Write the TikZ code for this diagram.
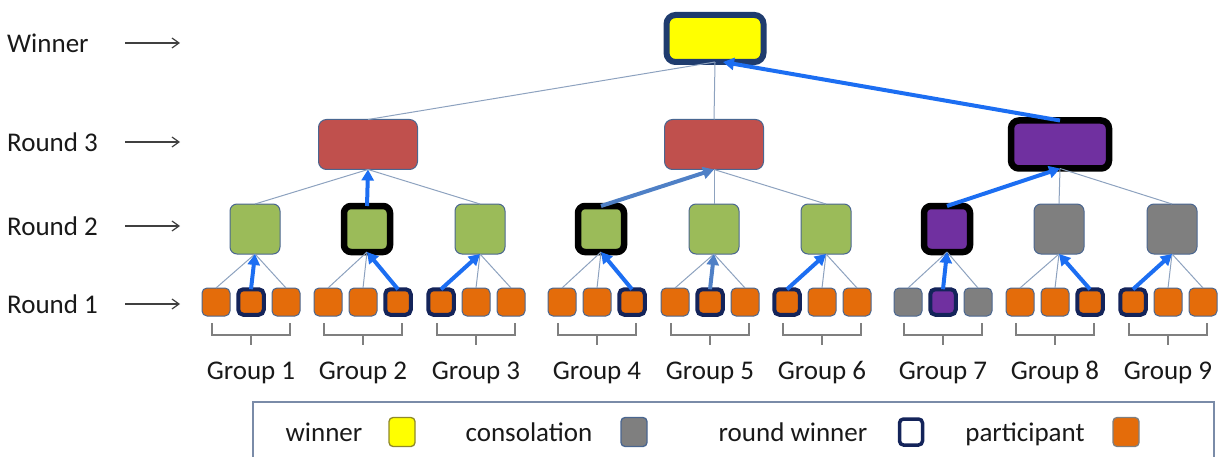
\documentclass[tikz,border=0pt]{standalone}
\usepackage{fontspec}
\setmainfont{Carlito}
\usetikzlibrary{arrows.meta}
\definecolor{orng}{HTML}{E46C0A}
\definecolor{grn}{HTML}{9BBB59}
\definecolor{redb}{HTML}{C0504D}
\definecolor{purp}{HTML}{7030A0}
\definecolor{gry}{HTML}{7F7F7F}
\definecolor{edgec}{HTML}{4A6690}
\definecolor{navy}{HTML}{14245A}
\definecolor{wnavy}{HTML}{1F3C6E}
\definecolor{lnkc}{HTML}{8DA2BF}
\definecolor{bblue}{HTML}{1C6EF2}
\definecolor{sblue}{HTML}{4F80C6}
\definecolor{ylw}{HTML}{FFFF00}
\definecolor{legc}{HTML}{7A8BA8}
\begin{document}
\begin{tikzpicture}[x=1pt,y=-1pt,
  base/.style={inner sep=0pt, outer sep=0pt},
  r1p/.style={base, rounded corners=5pt, draw=edgec, line width=1pt, fill=orng, minimum size=28pt},
  r1pw/.style={base, rounded corners=5pt, draw=navy, line width=4pt, fill=orng, minimum size=25.5pt},
  r1c/.style={r1p, fill=gry},
  r1uw/.style={r1pw, fill=purp},
  r2g/.style={base, rounded corners=7pt, draw=edgec, line width=1pt, fill=grn, minimum size=50pt},
  r2gw/.style={base, rounded corners=7pt, draw=black, line width=6.5pt, fill=grn, minimum size=46pt},
  r2uw/.style={r2gw, fill=purp},
  r2c/.style={r2g, fill=gry},
  r3/.style={base, rounded corners=8pt, draw=edgec, line width=1pt, fill=redb, minimum width=99pt, minimum height=50pt},
  r3w/.style={base, rounded corners=8pt, draw=black, line width=6.5pt, fill=purp, minimum width=98pt, minimum height=48pt},
  winbox/.style={base, rounded corners=9pt, draw=wnavy, line width=6pt, fill=ylw, minimum width=97pt, minimum height=47pt},
  txt/.style={inner sep=0pt, font=\fontsize{27}{32}\selectfont, text=black!90, text height=19pt, text depth=6pt},
  lnk/.style={draw=lnkc, line width=1pt},
  warr/.style={line width=4pt, -{Triangle[length=11pt,width=12pt]}},
  rowarr/.style={draw=black!75, line width=1.2pt, -{Straight Barb[length=7pt,width=10pt]}},
  brk/.style={draw=gry, line width=1.3pt},
  lgsq/.style={base, rounded corners=4pt, minimum width=26pt, minimum height=29pt, line width=1.3pt}
]
\useasboundingbox (0,0) rectangle (1225,457);
\clip (0,0) rectangle (1225,457);

% row labels
\foreach \n/\t/\yy in {lw/Winner/43, lr3/Round 3/142, lr2/Round 2/226, lr1/Round 1/304}{
  \node[txt, anchor=west] (\n) at (7,\yy+3) {\t};
  \coordinate (\n-s) at (125,\yy);
  \coordinate (\n-e) at (180,\yy);
  \draw[rowarr] (\n-s) -- (\n-e);
}

% winner and round 3
\node[winbox] (W) at (715,38.5) {};
\node[r3] (t1) at (368,144.5) {};
\node[r3] (t2) at (714,144.5) {};
\node[r3w] (t3) at (1060,144.5) {};

% groups
\foreach \i/\x/\sa/\sb/\sc/\sr in {1/255/r1p/r1pw/r1p/r2g, 2/367/r1p/r1p/r1pw/r2gw, 3/480/r1pw/r1p/r1p/r2g, 4/601/r1p/r1p/r1pw/r2gw, 5/714/r1p/r1pw/r1p/r2g, 6/826/r1pw/r1p/r1p/r2g, 7/947/r1c/r1uw/r1c/r2uw, 8/1059/r1p/r1p/r1pw/r2c, 9/1172/r1pw/r1p/r1p/r2c}{
  \node[\sa] (a\i) at (\x-39,302) {};
  \node[\sb] (b\i) at (\x-4,302) {};
  \node[\sc] (c\i) at (\x+31,302) {};
  \node[\sr] (r\i) at (\x,229) {};
  \draw[brk] (\x-43,323) -- (\x-43,335) -- (\x+35,335) -- (\x+35,323) (\x-4,335) -- (\x-4,345);
  \node[txt] (g\i) at (\x-4,373) {Group \i};
}

% thin connectors
\draw[lnk] (W.south) -- (t1.north);
\draw[lnk] (W.south) -- (t2.north);
\draw[lnk] (t1.south) -- (r1.north);
\draw[lnk] (t1.south) -- (r3.north);
\draw[lnk] (t2.south) -- (r5.north);
\draw[lnk] (t2.south) -- (r6.north);
\draw[lnk] (t3.south) -- (r8.north);
\draw[lnk] (t3.south) -- (r9.north);

\foreach \i/\p/\q/\w/\col in {1/a/c/b/bblue, 2/a/b/c/bblue, 3/b/c/a/bblue, 4/a/b/c/bblue, 5/a/c/b/sblue, 6/b/c/a/bblue, 7/a/c/b/bblue, 8/a/b/c/bblue, 9/b/c/a/bblue}{
  \draw[lnk] (r\i.south) -- (\p\i.north);
  \draw[lnk] (r\i.south) -- (\q\i.north);
  \draw[warr, draw=\col] (\w\i.north) -- (r\i.south);
}

% winner arrows between rounds
\draw[warr, draw=bblue] (r2.north) -- (t1.south);
\draw[warr, draw=sblue] (r4.north) -- (t2.south);
\draw[warr, draw=bblue] (r7.north) -- (t3.south);
\draw[warr, draw=bblue] (t3.north) -- ([xshift=8pt]W.south);

% legend
\node[base, draw=legc, line width=1.5pt, minimum width=961pt, minimum height=90pt, anchor=north west] (legend) at (253,402) {};
\node[txt] (lgw) at (324,435) {winner};
\node[lgsq, fill=ylw, draw=olive!70!gray] (lgy) at (402,432) {};
\node[txt] (lgc) at (529,435) {consolation};
\node[lgsq, fill=gry, draw=edgec] (lgg) at (634,432) {};
\node[txt] (lgr) at (793,435) {round winner};
\node[lgsq, fill=white, draw=navy, line width=3.5pt, minimum width=23pt, minimum height=26pt] (lgn) at (911,432) {};
\node[txt] (lgp) at (1025,435) {participant};
\node[lgsq, fill=orng, draw=gry] (lgo) at (1126,432) {};
\end{tikzpicture}
\end{document}
